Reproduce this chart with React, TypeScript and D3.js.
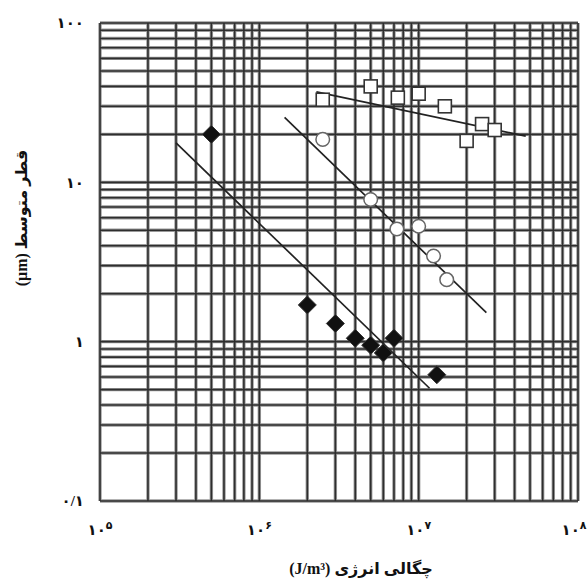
import React from 'react';
import * as d3 from 'd3';

// Reference values (log–log)
const diamondX = [5e5, 2e6, 3e6, 4e6, 5e6, 6e6, 7e6, 1.3e7];
const diamondY = [20, 1.7, 1.3, 1.05, 0.95, 0.85, 1.05, 0.62];

const circleX = [2.5e6, 5e6, 7.3e6, 1e7, 1.24e7, 1.5e7];
const circleY = [18.6, 7.8, 5.1, 5.3, 3.45, 2.45];

const squareX = [2.5e6, 5e6, 7.4e6, 1e7, 1.46e7, 2e7, 2.5e7, 3e7];
const squareY = [33, 40, 34, 36, 30, 18.2, 23.2, 21.3];

// fitted lines (start, end)
const diamondFitX = [3e5, 1.17e7];
const diamondFitY = [17.7, 0.51];
const circleFitX = [1.44e6, 2.66e7];
const circleFitY = [25.6, 1.52];
const squareFitX = [2.28e6, 4.7e7];
const squareFitY = [37, 19.5];

const xTickValues = [1e5, 1e6, 1e7, 1e8];
const xTickExp = ['۵', '۶', '۷', '۸'];
const yTickValues = [0.1, 1, 10, 100];
const yTickLabels = ['۰/۱', '۱', '۱۰', '۱۰۰'];

const xTitle = 'چگالی انرژی (J/m³)';
const yTitle = 'قطر متوسط (μm)';

const W = 588;
const H = 584;
const margin = { top: 23, right: 10, bottom: 83, left: 100 };

const x = d3.scaleLog().domain([1e5, 1e8]).range([margin.left, W - margin.right]);
const y = d3.scaleLog().domain([0.1, 100]).range([H - margin.bottom, margin.top]);

const gridX: number[] = [];
for (let e = 5; e < 8; e++) for (let m = 1; m < 10; m++) gridX.push(m * Math.pow(10, e));
gridX.push(1e8);
const gridY: number[] = [];
for (let e = -1; e < 2; e++) for (let m = 1; m < 10; m++) gridY.push(m * Math.pow(10, e));
gridY.push(100);

const font = "'Liberation Serif', 'DejaVu Sans', serif";

const line = d3
  .line<[number, number]>()
  .x((d) => x(d[0]))
  .y((d) => y(d[1]));

const zip = (a: number[], b: number[]) => a.map((v, i) => [v, b[i]] as [number, number]);

export default function App() {
  const [x0, x1] = x.range();
  const [y0, y1] = y.range();

  // scanned-looking grid: grey halo under a dark core
  const gridLayer = (stroke: string, width: number, key: string) => (
    <g key={key}>
      {gridX.map((v, i) => (
        <line key={key + 'x' + i} x1={x(v)} x2={x(v)} y1={y1} y2={y0} stroke={stroke} strokeWidth={width} />
      ))}
      {gridY.map((v, i) => (
        <line key={key + 'y' + i} x1={x0} x2={x1} y1={y(v)} y2={y(v)} stroke={stroke} strokeWidth={width} />
      ))}
    </g>
  );

  return (
    <svg width={W} height={H} style={{ display: 'block', position: 'absolute', left: 0, top: 0 }}>
      <rect width={W} height={H} fill="#fff" />
      {gridLayer('#9a9a9a', 3.4, 'halo')}
      {gridLayer('#2e2e2e', 1.6, 'core')}

      {/* fit lines */}
      <path d={line(zip(diamondFitX, diamondFitY)) || ''} stroke="#222" strokeWidth={1.7} fill="none" />
      <path d={line(zip(circleFitX, circleFitY)) || ''} stroke="#222" strokeWidth={1.7} fill="none" />
      <path d={line(zip(squareFitX, squareFitY)) || ''} stroke="#222" strokeWidth={1.7} fill="none" />

      {/* markers */}
      {zip(diamondX, diamondY).map(([a, b], i) => {
        const cx = x(a);
        const cy = y(b);
        const r = 9;
        return (
          <path
            key={'d' + i}
            d={`M${cx},${cy - r}L${cx + r},${cy}L${cx},${cy + r}L${cx - r},${cy}Z`}
            fill="#111"
            stroke="#333"
            strokeWidth={1}
          />
        );
      })}
      {zip(circleX, circleY).map(([a, b], i) => (
        <circle key={'c' + i} cx={x(a)} cy={y(b)} r={6.8} fill="#fff" stroke="#666" strokeWidth={1.5} />
      ))}
      {zip(squareX, squareY).map(([a, b], i) => (
        <rect
          key={'s' + i}
          x={x(a) - 6.5}
          y={y(b) - 6.5}
          width={13}
          height={13}
          fill="#fff"
          stroke="#333"
          strokeWidth={1.6}
        />
      ))}

      {/* y tick labels */}
      {yTickValues.map((v, i) => (
        <text
          key={'yt' + i}
          x={84}
          y={y(v)}
          dy="0.35em"
          textAnchor="end"
          fontFamily={font}
          fontWeight="bold"
          fontSize={15}
          fill="#111"
        >
          {yTickLabels[i]}
        </text>
      ))}

      {/* x tick labels */}
      {xTickValues.map((v, i) => (
        <text
          key={'xt' + i}
          x={i === 3 ? x(v) - 4 : x(v)}
          y={535}
          textAnchor="middle"
          fontFamily={font}
          fontWeight="bold"
          fontSize={15}
          fill="#111"
        >
          ۱۰
          <tspan fontSize={11} dy={-6}>
            {xTickExp[i]}
          </tspan>
        </text>
      ))}

      {/* x title */}
      <text
        x={361}
        y={574}
        textAnchor="middle"
        direction="rtl"
        fontFamily={font}
        fontWeight="bold"
        fontSize={16}
        fill="#111"
      >
        {xTitle}
      </text>

      {/* y title */}
      <text
        transform={`translate(27,218) rotate(-90)`}
        textAnchor="middle"
        direction="rtl"
        fontFamily={font}
        fontWeight="bold"
        fontSize={16}
        fill="#111"
      >
        {yTitle}
      </text>
    </svg>
  );
}
